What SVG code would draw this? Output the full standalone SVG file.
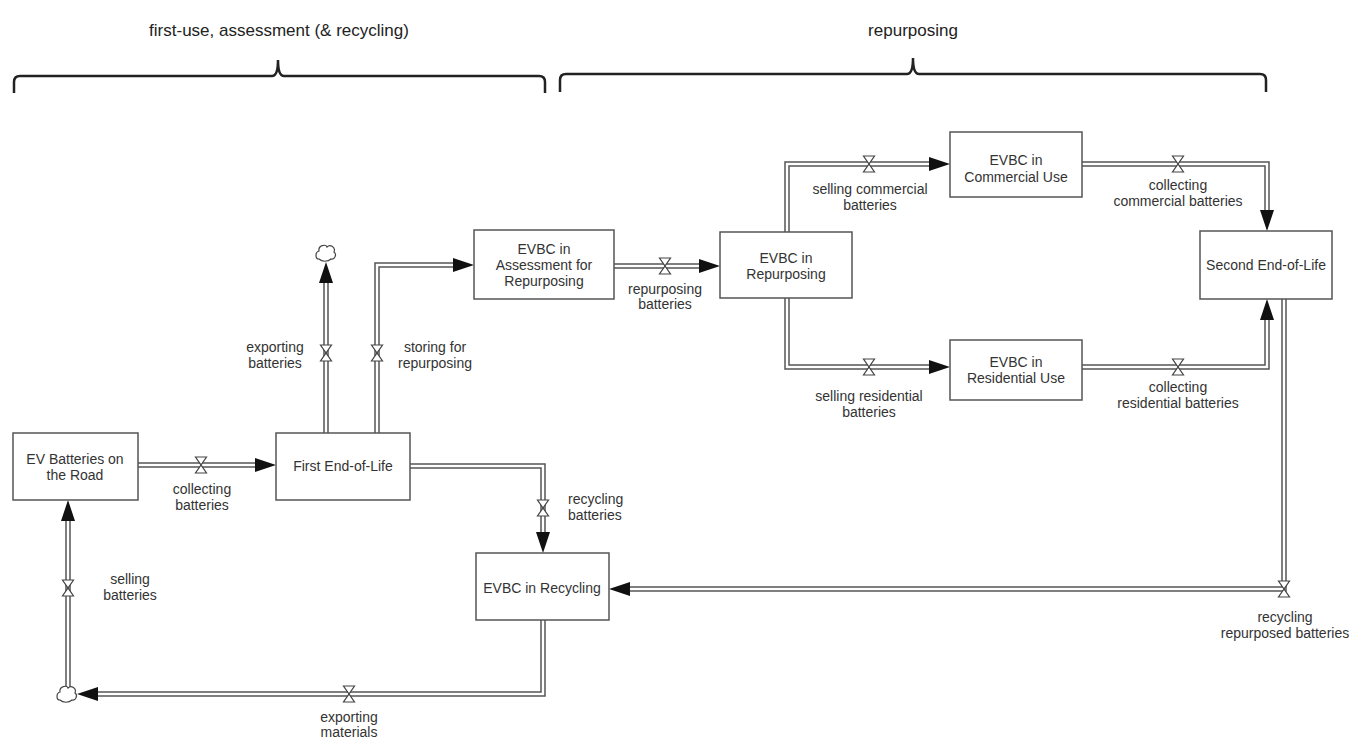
<svg xmlns="http://www.w3.org/2000/svg" xmlns:xlink="http://www.w3.org/1999/xlink" width="1349" height="741" viewBox="0 0 1349 741">
<style>
text{font-family:"Liberation Sans",Arial,sans-serif;font-size:14px;fill:#333;}
.title{font-size:17px;fill:#222;}
.box{fill:#fff;stroke:#555;stroke-width:1.5;}
.po{fill:none;stroke:#555;stroke-width:5.5;stroke-linejoin:miter;}
.pi{fill:none;stroke:#fff;stroke-width:2.5;stroke-linejoin:miter;}
.brace{fill:none;stroke:#222;stroke-width:2.5;}
.valve{fill:#fff;stroke:#444;stroke-width:1.2;}
.cloud{fill:#fff;stroke:#444;stroke-width:1.2;}
.c{text-anchor:middle;}
.e{text-anchor:end;}
</style>
<defs>
<marker id="arr" markerUnits="userSpaceOnUse" markerWidth="22" markerHeight="16" refX="21" refY="7" orient="auto">
<path d="M0,0 L21,7 L0,14 Z" fill="#111"/>
</marker>
<path id="valve" class="valve" d="M-5.5,-8 H5.5 L-5.5,8 H5.5 Z"/>
<path id="cloud" class="cloud" d="M-7,6 C-11,6 -11,-1 -7,-2 C-8,-8 0,-9 1,-6 C4,-9 10,-6 8,-1 C11,1 9,7 5,6 C2,9 -4,9 -7,6 Z"/>
</defs>
<rect width="1349" height="741" fill="#fff"/>

<g id="headers">
<text class="title c" x="279" y="36">first-use, assessment (&amp; recycling)</text>
<text class="title c" x="913" y="36">repurposing</text>
<path class="brace" d="M14 93 V82 Q14 76 20 76 H272 Q278 76 278 60 Q278 76 284 76 H539 Q545 76 545 82 V93"/>
<path class="brace" d="M560 92 V80 Q560 74 566 74 H907 Q913 74 913 58 Q913 74 919 74 H1260 Q1266 74 1266 80 V92"/>
</g>

<g id="connectors">
<path class="po" d="M138 465 H256"/><path class="pi" d="M138 465 H276" marker-end="url(#arr)"/>
<path class="po" d="M326 433 V282"/><path class="pi" d="M326 433 V262" marker-end="url(#arr)"/>
<path class="po" d="M377 433 V265 H454"/><path class="pi" d="M377 433 V265 H474" marker-end="url(#arr)"/>
<path class="po" d="M614 266 H700"/><path class="pi" d="M614 266 H720" marker-end="url(#arr)"/>
<path class="po" d="M787 232 V164 H930"/><path class="pi" d="M787 232 V164 H950" marker-end="url(#arr)"/>
<path class="po" d="M1082 164 H1267 V211"/><path class="pi" d="M1082 164 H1267 V231" marker-end="url(#arr)"/>
<path class="po" d="M787 298 V367 H930"/><path class="pi" d="M787 298 V367 H950" marker-end="url(#arr)"/>
<path class="po" d="M1082 367 H1267 V319"/><path class="pi" d="M1082 367 H1267 V299" marker-end="url(#arr)"/>
<path class="po" d="M1284 299 V589 H629"/><path class="pi" d="M1284 299 V589 H609" marker-end="url(#arr)"/>
<path class="po" d="M410 466 H543 V533"/><path class="pi" d="M410 466 H543 V553" marker-end="url(#arr)"/>
<path class="po" d="M543 620 V694 H96"/><path class="pi" d="M543 620 V694 H77" marker-end="url(#arr)"/>
<path class="po" d="M68 687 V520"/><path class="pi" d="M68 687 V500" marker-end="url(#arr)"/>
<use href="#valve" x="201" y="465"/>
<use href="#valve" x="326" y="353"/>
<use href="#valve" x="377" y="353"/>
<use href="#valve" x="665" y="266"/>
<use href="#valve" x="869" y="164"/>
<use href="#valve" x="1178" y="164"/>
<use href="#valve" x="869" y="367"/>
<use href="#valve" x="1178" y="367"/>
<use href="#valve" x="1284" y="589"/>
<use href="#valve" x="543" y="508"/>
<use href="#valve" x="349" y="694"/>
<use href="#valve" x="68" y="588"/>
<use href="#cloud" x="326" y="253"/>
<use href="#cloud" x="67" y="694"/>
<text class="c" x="202" y="494">collecting</text>
<text class="c" x="202" y="510">batteries</text>
<text class="c" x="275" y="352">exporting</text>
<text class="c" x="275" y="368">batteries</text>
<text class="c" x="435" y="352">storing for</text>
<text class="c" x="435" y="368">repurposing</text>
<text class="c" x="665" y="294">repurposing</text>
<text class="c" x="665" y="309">batteries</text>
<text class="c" x="870" y="194">selling commercial</text>
<text class="c" x="870" y="210">batteries</text>
<text class="c" x="1178" y="190">collecting</text>
<text class="c" x="1178" y="206">commercial batteries</text>
<text class="c" x="869" y="401">selling residential</text>
<text class="c" x="869" y="417">batteries</text>
<text class="c" x="1178" y="392">collecting</text>
<text class="c" x="1178" y="408">residential batteries</text>
<text x="568" y="504">recycling</text>
<text x="568" y="520">batteries</text>
<text class="c" x="1285" y="622">recycling</text>
<text class="c" x="1285" y="638">repurposed batteries</text>
<text class="c" x="130" y="584">selling</text>
<text class="c" x="130" y="600">batteries</text>
<text class="c" x="349" y="722">exporting</text>
<text class="c" x="349" y="737">materials</text>
</g>

<g id="ev-road"><rect class="box" x="13" y="433" width="125" height="67"/>
<text class="c" x="75" y="464">EV Batteries on</text><text class="c" x="75" y="480">the Road</text></g>
<g id="first-eol"><rect class="box" x="276" y="433" width="134" height="67"/>
<text class="c" x="343" y="471">First End-of-Life</text></g>
<g id="assessment"><rect class="box" x="474" y="230" width="140" height="69"/>
<text class="c" x="544" y="254">EVBC in</text><text class="c" x="544" y="270">Assessment for</text><text class="c" x="544" y="286">Repurposing</text></g>
<g id="repurposing"><rect class="box" x="720" y="232" width="132" height="66"/>
<text class="c" x="786" y="263">EVBC in</text><text class="c" x="786" y="279">Repurposing</text></g>
<g id="commercial"><rect class="box" x="950" y="132" width="132" height="65"/>
<text class="c" x="1016" y="165">EVBC in</text><text class="c" x="1016" y="182">Commercial Use</text></g>
<g id="residential"><rect class="box" x="950" y="340" width="132" height="60"/>
<text class="c" x="1016" y="367">EVBC in</text><text class="c" x="1016" y="383">Residential Use</text></g>
<g id="second-eol"><rect class="box" x="1200" y="231" width="132" height="68"/>
<text class="c" x="1266" y="270">Second End-of-Life</text></g>
<g id="recycling"><rect class="box" x="476" y="553" width="133" height="67"/>
<text class="c" x="542" y="593">EVBC in Recycling</text></g>
</svg>
